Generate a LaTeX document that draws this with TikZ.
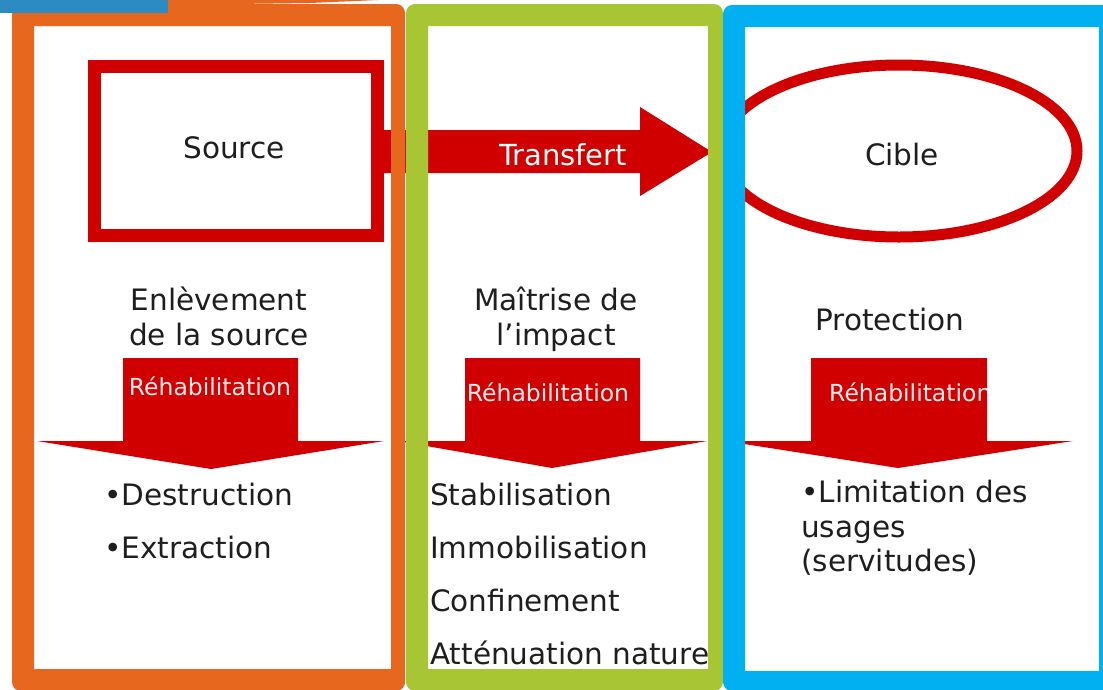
\documentclass[tikz,border=0pt]{standalone}
\usepackage{fontspec}
\setmainfont{DejaVu Sans}
\begin{document}
\begin{tikzpicture}[x=1pt,y=-1pt,
  redfill/.style={fill=arrowred},
  lbl/.style={inner sep=0pt, text=txt, font=\fontsize{29.5}{29.5}\selectfont},
  wlbl/.style={inner sep=0pt, text=white, font=\fontsize{29}{29}\selectfont},
  rehab/.style={inner sep=0pt, text=white!92!red, font=\fontsize{23.5}{23.5}\selectfont},
  framepart/.style={even odd rule}
]
\definecolor{arrowred}{HTML}{D00000}
\definecolor{txt}{HTML}{1E1E1E}
\definecolor{fOrange}{HTML}{E8671E}
\definecolor{fGreen}{HTML}{A8C634}
\definecolor{fBlue}{HTML}{00B0F0}
\definecolor{barBlue}{HTML}{2B8BC2}

\useasboundingbox (0,0) rectangle (1103,689);
\fill[white] (0,0) rectangle (1103,689);

% Transfer arrow (shaft starts behind the source box)
\fill[redfill] (380,130) -- (640,130) -- (640,107) -- (712,152)
  -- (640,196) -- (640,173) -- (380,173) -- cycle;
\node[wlbl] (transfert) at (563,155) {Transfert};

% Source box
\draw[arrowred, line width=13pt] (94,66.5) rectangle (377,235);
\node[lbl] (source) at (234,148) {Source};

% Target ellipse
\draw[arrowred, line width=11pt] (899,151) ellipse [x radius=178, y radius=86];
\node[lbl] (cible) at (902,154) {Cible};

% Column headings
\node[lbl, anchor=base] (enl1) at (219,310) {Enlèvement};
\node[lbl, anchor=base] (enl2) at (219,345) {de la source};
\node[lbl, anchor=base] (mai1) at (556,310) {Maîtrise de};
\node[lbl, anchor=base] (mai2) at (556,345) {l’impact};
\node[lbl, anchor=base] (prot) at (890,330) {Protection};

% Downward "Réhabilitation" arrows
\fill[redfill] (123,358) -- (298,358) -- (298,441) -- (384,441)
  -- (211,469) -- (37,441) -- (123,441) -- cycle;
\node[rehab, anchor=base] (reh1) at (210,395) {Réhabilitation};

\fill[redfill] (465,358) -- (640,358) -- (640,441) -- (707,441)
  -- (552,468) -- (398,441) -- (465,441) -- cycle;
\node[rehab, anchor=base] (reh2) at (548,401) {Réhabilitation};

\fill[redfill] (811,358) -- (987,358) -- (987,441) -- (1073,441)
  -- (898,468) -- (725,441) -- (811,441) -- cycle;
\begin{scope}
  \clip (811,358) rectangle (987,441);
  \node[rehab, anchor=base west] (reh3) at (829,401) {Réhabilitation};
\end{scope}

% Action lists
\node[lbl, anchor=base west] (d1) at (104,505) {•Destruction};
\node[lbl, anchor=base west] (d2) at (104,558) {•Extraction};

\node[lbl, anchor=base west] (g1) at (430,505) {Stabilisation};
\node[lbl, anchor=base west] (g2) at (430,558) {Immobilisation};
\node[lbl, anchor=base west] (g3) at (430,611) {Confinement};
\node[lbl, anchor=base west] (g4) at (430,664) {Atténuation nature};

\node[lbl, anchor=base west] (b1) at (801,502) {•Limitation des};
\node[lbl, anchor=base west] (b2) at (801,537) {usages};
\node[lbl, anchor=base west] (b3) at (801,571) {(servitudes)};

% Column frames
\fill[fOrange, framepart] [rounded corners=9pt] (12,4) rectangle (405,691)
  [sharp corners] (34,26) rectangle (391,669);
\fill[fGreen, framepart] [rounded corners=9pt] (406,4) rectangle (723,691)
  [sharp corners] (428,26) rectangle (708,669);
\fill[fBlue, framepart] [rounded corners=9pt] (723,5) rectangle (1115,691)
  [sharp corners] (745,27) rectangle (1099,671);

% Top edge decoration
\fill[fOrange] (160,0) -- (378,0) -- (310,3) -- (160,5) -- cycle;
\fill[barBlue] (0,0) rectangle (168,13);
\end{tikzpicture}
\end{document}
